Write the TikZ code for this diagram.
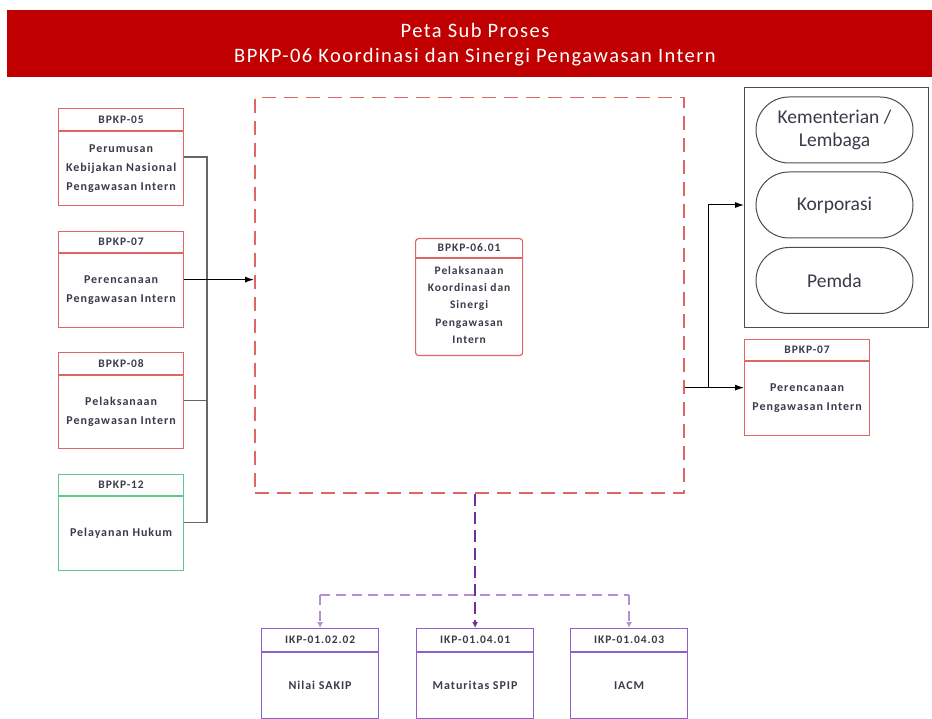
\documentclass[tikz,border=0pt]{standalone}
\usepackage{fontspec}
\setmainfont{Carlito}
\newfontfamily\boxfont[LetterSpace=8]{Carlito}
\newfontfamily\titlefont[LetterSpace=7]{Carlito}
\usetikzlibrary{arrows.meta,calc}
\definecolor{titlered}{HTML}{C00000}
\definecolor{boxred}{HTML}{E06666}
\definecolor{boxgreen}{HTML}{5CC98A}
\definecolor{boxpurple}{HTML}{9160C8}
\definecolor{darkpurple}{HTML}{7030A0}
\definecolor{lightpurple}{HTML}{B48FD8}
\definecolor{txt}{HTML}{3A3A4A}
\tikzset{
  pbox/.style={draw=#1, line width=1.2pt, anchor=north west, inner sep=0pt},
  hdr/.style={font=\boxfont\fontsize{11.5}{12}\selectfont\bfseries, text=txt},
  bdy/.style={font=\boxfont\fontsize{12}{19}\selectfont\bfseries, text=txt, align=center},
  oval/.style={draw=black!70, line width=1pt, minimum width=157pt, minimum height=66pt, rounded corners=33pt, font=\fontsize{19.5}{23}\selectfont, text=txt, align=center},
  arr/.style={draw=black, line width=1pt, -{Latex[length=9pt,width=6pt]}},
  gline/.style={draw=black!60, line width=1.3pt},
  pd/.style={draw=darkpurple, line width=1.3pt, dash pattern=on 12pt off 6pt},
  lpd/.style={draw=lightpurple, line width=1.3pt, dash pattern=on 10pt off 6pt},
  ptip/.style={-{Latex[length=6pt,width=6pt]}}
}
\begin{document}
\begin{tikzpicture}[x=1pt,y=-1pt]
\useasboundingbox (0,0) rectangle (932,719);
% title
\node[fill=titlered, minimum width=925pt, minimum height=67pt, anchor=north west, inner sep=0pt] (title) at (7,10) {};
\node[text=white, font=\titlefont\fontsize{20.5}{25}\selectfont, align=center] (ttext) at (475,45) {Peta Sub Proses\\BPKP-06 Koordinasi dan Sinergi Pengawasan Intern};

% boxes macro
\newcommand{\pbx}[9]{%
  \node[pbox=#9, minimum width=#4pt, minimum height=#5pt] (#1) at (#2,#3) {};
  \draw[draw=#9, line width=1.2pt] ($(#1.north west)+(0,#6)$) -- ($(#1.north east)+(0,#6)$);
  \node[hdr] (#1h) at ($(#1.north)+(0,#6/2)$) {#7};
  \node[bdy] (#1b) at ($(#1.north)!0.5!(#1.south)+(0,#6/2)$) {#8};
}
\pbx{b05}{58}{108}{125}{97}{23}{BPKP-05}{Perumusan\\Kebijakan Nasional\\Pengawasan Intern}{boxred}
\pbx{b07}{58}{231}{125}{96}{22}{BPKP-07}{Perencanaan\\Pengawasan Intern}{boxred}
\pbx{b08}{58}{352}{125}{96}{23}{BPKP-08}{Pelaksanaan\\Pengawasan Intern}{boxred}
\pbx{b12}{58}{474}{125}{96}{22}{BPKP-12}{Pelayanan Hukum}{boxgreen}

% main dashed box
\node[draw=boxred, line width=1.5pt, dash pattern=on 14pt off 8pt, minimum width=429pt, minimum height=395pt, anchor=north west, inner sep=0pt] (main) at (254,97) {};

% sub process
\node[draw=boxred, line width=1.2pt, rounded corners=3pt, minimum width=107pt, minimum height=117pt, anchor=north west, inner sep=0pt] (sub) at (415,238) {};
\draw[draw=boxred, line width=1.2pt] ($(sub.north west)+(0,20)$) -- ($(sub.north east)+(0,20)$);
\node[hdr] (subh) at ($(sub.north)+(0,10)$) {BPKP-06.01};
\node[font=\boxfont\fontsize{11.5}{17.2}\selectfont\bfseries, text=txt, align=center] (subb) at ($(sub.north)+(0,67)$) {Pelaksanaan\\Koordinasi dan\\Sinergi\\Pengawasan\\Intern};

% left connectors
\coordinate (jx) at (207,0);
\draw[gline] (b05.east) -| (jx |- b12.east) -- (b12.east);
\draw[gline] (b08.east) -- (jx |- b08.east);
\draw[arr] (b07.east) -- (b07.east -| main.west);

% right group
\node[draw=black!70, line width=1.3pt, minimum width=184pt, minimum height=240pt, anchor=north west, inner sep=0pt] (grp) at (744,87) {};
\node[oval] (kl) at (834.5,130) {Kementerian /\\Lembaga};
\node[oval] (kor) at (834.5,205) {Korporasi};
\node[oval] (pem) at (834.5,280.5) {Pemda};

\pbx{r07}{744}{339}{125}{96}{22}{BPKP-07}{Perencanaan\\Pengawasan Intern}{boxred}

% right connectors
\coordinate (rj) at (708,387);
\draw[arr] (main.east |- r07.west) -- (r07.west);
\draw[arr] (rj) |- (grp.west |- kor);

% bottom boxes
\pbx{ik1}{261}{628}{117}{90}{24}{IKP-01.02.02}{Nilai SAKIP}{boxpurple}
\pbx{ik2}{416}{628}{117}{90}{24}{IKP-01.04.01}{Maturitas SPIP}{boxpurple}
\pbx{ik3}{570}{628}{117}{90}{24}{IKP-01.04.03}{IACM}{boxpurple}

\coordinate (bj) at (475,595);
\draw[lpd] (ik1.north |- bj) -- (ik3.north |- bj);
\draw[lpd, ptip] (ik1.north |- bj) -- (ik1.north);
\draw[lpd, ptip] (ik3.north |- bj) -- (ik3.north);
\draw[pd, ptip] (ik2.north |- main.south) -- (ik2.north);
\end{tikzpicture}
\end{document}
